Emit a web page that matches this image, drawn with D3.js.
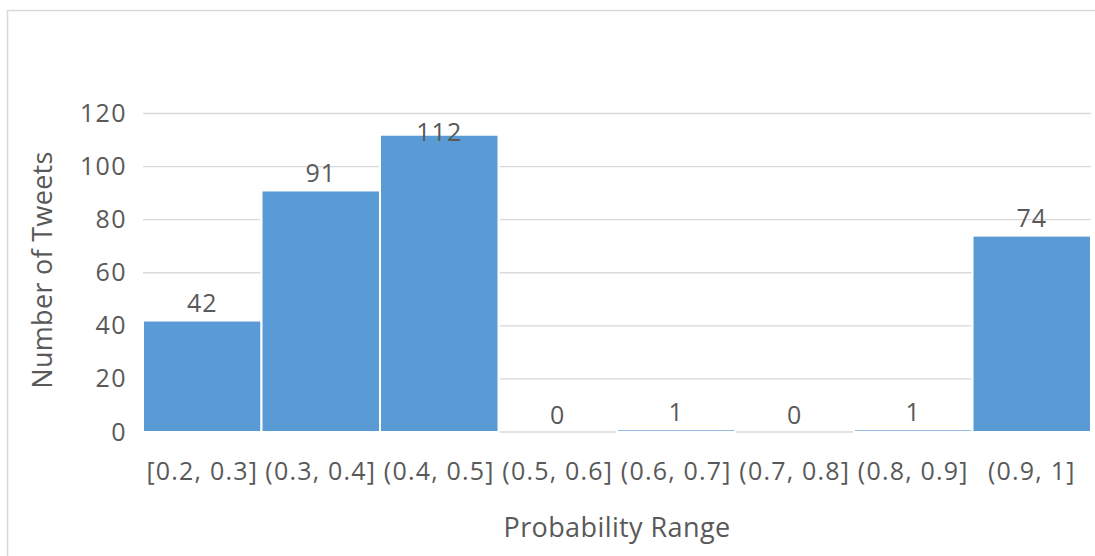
<!DOCTYPE html>
<html>
<head>
<meta charset="utf-8">
<script src="https://cdn.jsdelivr.net/npm/d3@7"></script>
<style>
  html, body { margin: 0; padding: 0; background: #fff; }
  svg { display: block; }
  text { font-family: "Open Sans", "Liberation Sans", sans-serif; fill: #595959; }
</style>
</head>
<body>
<svg id="chart" width="1095" height="556"></svg>
<script>
// Distribution of tweets by predicted probability range
const categories = ["[0.2, 0.3]", "(0.3, 0.4]", "(0.4, 0.5]", "(0.5, 0.6]", "(0.6, 0.7]", "(0.7, 0.8]", "(0.8, 0.9]", "(0.9, 1]"];
const tweetCounts = [42, 91, 112, 0, 1, 0, 1, 74];
const yTicks = [0, 20, 40, 60, 80, 100, 120];
const xTitle = "Probability Range";
const yTitle = "Number of Tweets";

const svg = d3.select("#chart");
const W = 1095, H = 556;
const margin = { left: 143, right: 4, top: 113.5, bottom: 124 };

// outer chart frame
svg.append("rect")
  .attr("x", 7.5).attr("y", 10.5)
  .attr("width", W + 10).attr("height", H + 10)
  .attr("fill", "#fff").attr("stroke", "#D9D9D9").attr("stroke-width", 1.5);

const x = d3.scaleBand()
  .domain(categories)
  .range([margin.left, W - margin.right])
  .paddingInner(0).paddingOuter(0);

const y = d3.scaleLinear()
  .domain([0, 120])
  .range([H - margin.bottom, margin.top]);

// horizontal gridlines
svg.append("g")
  .selectAll("line")
  .data(yTicks)
  .join("line")
  .attr("x1", margin.left).attr("x2", W - margin.right)
  .attr("y1", d => y(d)).attr("y2", d => y(d))
  .attr("stroke", "#D9D9D9").attr("stroke-width", 1.3);

// y axis tick labels
const yAxis = d3.axisLeft(y).tickValues(yTicks).tickSize(0).tickPadding(16);
svg.append("g")
  .attr("transform", `translate(${margin.left},0)`)
  .call(yAxis)
  .call(g => g.select(".domain").remove())
  .selectAll("text")
  .attr("font-size", 25)
  .attr("letter-spacing", 1.4)
  .attr("fill", "#595959")
  .style("font-family", "'Open Sans', 'Liberation Sans', sans-serif");

// bars
svg.append("g")
  .selectAll("rect")
  .data(tweetCounts)
  .join("rect")
  .attr("x", (d, i) => x(categories[i]))
  .attr("width", x.bandwidth())
  .attr("y", d => y(d))
  .attr("height", d => y(0) - y(d))
  .attr("fill", "#5B9BD5")
  .attr("stroke", "#fff")
  .attr("stroke-width", 2);

// value labels above each bar, kept inside the plot area
svg.append("g")
  .selectAll("text")
  .data(tweetCounts)
  .join("text")
  .attr("x", (d, i) => x(categories[i]) + x.bandwidth() / 2)
  .attr("y", d => Math.max(y(d) - 8.5, y(120) + 27))
  .attr("text-anchor", "middle")
  .attr("font-size", 25)
  .attr("letter-spacing", 1)
  .text(d => d);

// category labels
const xAxis = d3.axisBottom(x).tickSize(0).tickPadding(30);
svg.append("g")
  .attr("transform", `translate(0,${y(0)})`)
  .call(xAxis)
  .call(g => g.select(".domain").remove())
  .selectAll("text")
  .attr("font-size", 25)
  .attr("letter-spacing", 1.2)
  .attr("fill", "#595959")
  .style("font-family", "'Open Sans', 'Liberation Sans', sans-serif");

// axis titles
svg.append("text")
  .attr("x", (margin.left + W - margin.right) / 2)
  .attr("y", 537)
  .attr("text-anchor", "middle")
  .attr("font-size", 27)
  .attr("letter-spacing", 0.4)
  .text(xTitle);

svg.append("text")
  .attr("transform", `translate(52,270) rotate(-90)`)
  .attr("text-anchor", "middle")
  .attr("font-size", 27)
  .attr("letter-spacing", 0.3)
  .text(yTitle);
</script>
</body>
</html>
